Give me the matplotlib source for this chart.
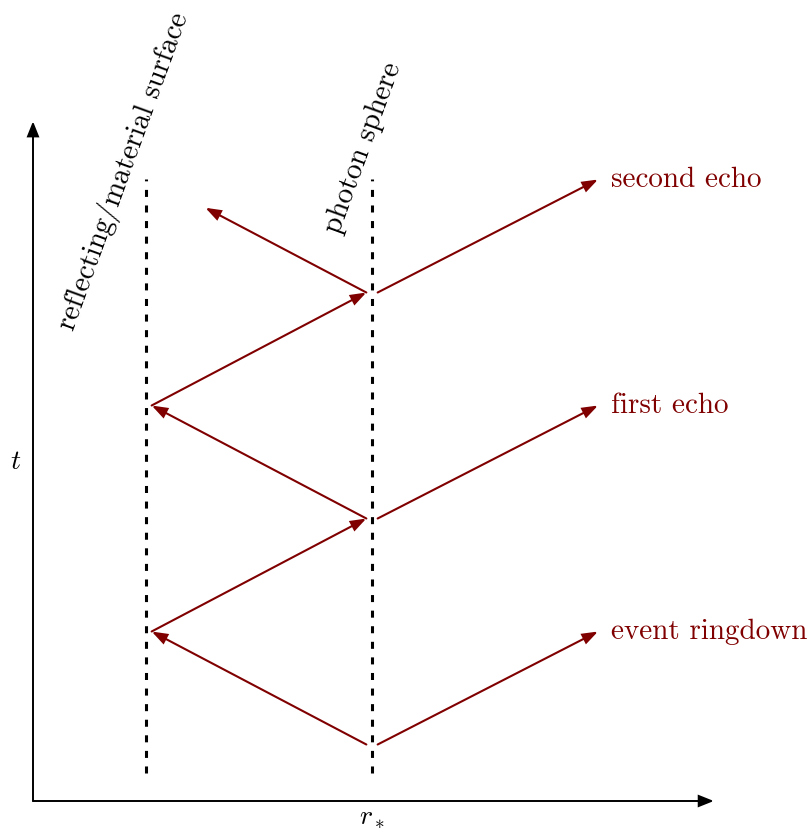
import numpy as np
import matplotlib.pyplot as plt
from matplotlib.patches import FancyArrowPatch

plt.rcParams['font.family'] = ['cmr10', 'DejaVu Serif']
plt.rcParams['mathtext.fontset'] = 'cm'
plt.rcParams['axes.unicode_minus'] = False

RED = '#800000'

# walls (r_*) and their vertical extent
wall_x = [2.0, 6.0]
wall_names = ["reflecting/material surface", "photon sphere"]
wall_y = [0.5, 11.0]

# rays: start, end
ray_start_x = [5.9, 2.1, 5.9, 2.1, 5.9, 6.1, 6.1, 6.1]
ray_start_y = [1.0, 3.0, 5.0, 7.0, 9.0, 1.0, 5.0, 9.0]
ray_end_x = [2.1, 5.9, 2.1, 5.9, 3.05, 10.0, 10.0, 10.0]
ray_end_y = [3.0, 5.0, 7.0, 9.0, 10.5, 3.0, 7.0, 11.0]

# outgoing signals
signal_names = ["event ringdown", "first echo", "second echo"]
signal_y = [3.0, 7.0, 11.0]

px = 56.5  # pixels per unit
fig = plt.figure(figsize=(8.07, 8.30), dpi=100)
ax = fig.add_axes([0, 0, 1, 1])
ax.set_xlim(-33 / px, (807 - 33) / px)
ax.set_ylim(-(830 - 801) / px, 801 / px)
ax.axis('off')

def arrow(x0, y0, x1, y1, color, lw, hl, hw):
	a = FancyArrowPatch((x0, y0), (x1, y1),
						arrowstyle='-|>,head_length=%g,head_width=%g' % (hl, hw),
						color=color, lw=lw, shrinkA=0, shrinkB=0,
						mutation_scale=1, joinstyle='miter')
	ax.add_patch(a)

# axes
arrow(0, 0, 12.05, 0, 'black', 1.4, 9.0, 3.6)
arrow(0, 0, 0, 12.03, 'black', 1.4, 9.0, 3.6)
ax.text(-0.3, 6.0, '$t$', fontsize=20, ha='center', va='center')
ax.text(6.0, -0.3, '$r_*$', fontsize=20, ha='center', va='center')

# dashed walls
for x in wall_x:
	ax.plot([x, x], wall_y, color='black', lw=2.2,
			linestyle=(0, (2.3, 2.8)), solid_capstyle='butt')

ax.text(1.6, 11.15, wall_names[0], fontsize=21, rotation=70,
		ha='center', va='center', rotation_mode='anchor')
ax.text(5.84, 11.56, wall_names[1], fontsize=21, rotation=70,
		ha='center', va='center', rotation_mode='anchor')

# rays
for x0, y0, x1, y1 in zip(ray_start_x, ray_start_y, ray_end_x, ray_end_y):
	arrow(x0, y0, x1, y1, RED, 1.5, 9.0, 3.2)

for name, y in zip(signal_names, signal_y):
	ax.text(10.23, y, name, fontsize=21, color=RED, ha='left', va='center')

fig.savefig('out.png', dpi=100)
